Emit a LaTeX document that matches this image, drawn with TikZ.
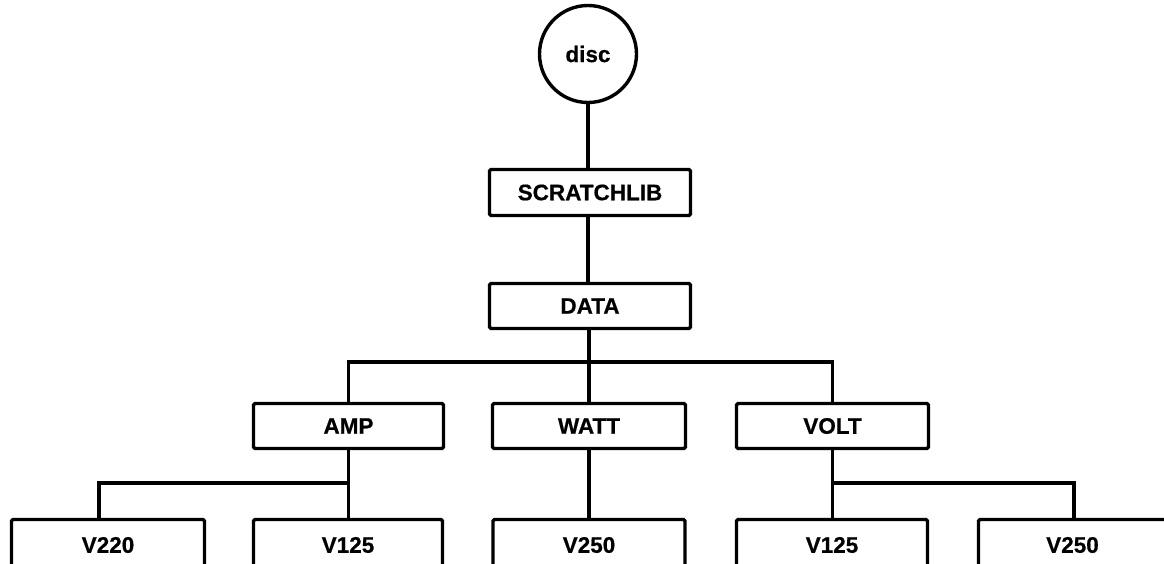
\documentclass[tikz,border=0pt]{standalone}
\usepackage{fontspec}
\setmainfont{Liberation Sans}[BoldFeatures={FakeBold=0.6}]
\begin{document}
\begin{tikzpicture}[x=1pt,y=-1pt,
  lbl/.style={font=\bfseries\fontsize{22.5}{22.5}\selectfont, text=black},
  box/.style={lbl, draw, line width=3.4pt, rounded corners=1.5pt, inner sep=0pt},
  midbox/.style={box, minimum height=45pt},
  lowbox/.style={box, minimum height=51pt},
  conn/.style={line width=3.4pt}]
\useasboundingbox (0,0) rectangle (1164,563);
\clip (0,0) rectangle (1164,563);
\node[lbl, circle, draw, line width=3.4pt, minimum size=97pt, inner sep=0pt] (disc) at (588,54) {disc};
\node[box, minimum width=201pt, minimum height=46pt] (scratch) at (590,192.5) {SCRATCHLIB};
\node[box, minimum width=201pt, minimum height=45pt] (data) at (590,306) {DATA};
\node[midbox, minimum width=190pt] (amp) at (348.5,426) {AMP};
\node[midbox, minimum width=193pt] (watt) at (589,426) {WATT};
\node[midbox, minimum width=192pt] (volt) at (832.5,426) {VOLT};
\node[lowbox, minimum width=193pt] (v220) at (108,545) {V220};
\node[lowbox, minimum width=189pt] (v125a) at (348,545) {V125};
\node[lowbox, minimum width=192pt] (v250a) at (589,545) {V250};
\node[lowbox, minimum width=191pt] (v125b) at (832,545) {V125};
\node[lowbox, minimum width=188pt] (v250b) at (1072.5,545) {V250};
\coordinate (j1) at (589,362);
\coordinate (j2) at (348.5,483);
\coordinate (j3) at (832.5,483);
\draw[conn] (disc.south) -- (disc.south |- scratch.north);
\draw[conn] (scratch.south -| disc.south) -- (disc.south |- data.north);
\draw[conn] (data.south -| watt.north) -- (watt.north);
\draw[conn] (amp.north) |- (j1) -| (volt.north);
\draw[conn] (amp.south) -- (amp.south |- v125a.north);
\draw[conn] ([xshift=-9pt]v220.north) |- (j2);
\draw[conn] (watt.south) -- (v250a.north);
\draw[conn] (volt.south) -- (volt.south |- v125b.north);
\draw[conn] (j3) -| ([xshift=1.5pt]v250b.north);
\end{tikzpicture}
\end{document}
